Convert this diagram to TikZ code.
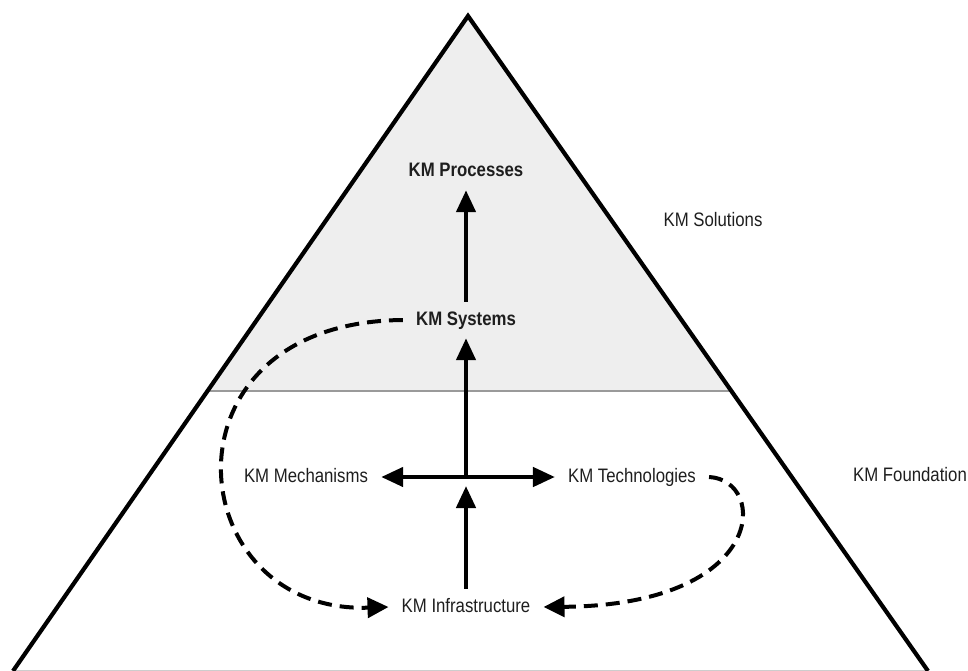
\documentclass[tikz,border=0pt]{standalone}
\usepackage{fontspec}
\newfontfamily\kmfont[FakeStretch=0.86]{Liberation Sans}
\usetikzlibrary{arrows.meta}
\definecolor{topfill}{HTML}{EEEEEE}
\definecolor{divider}{HTML}{9A9A9A}
\definecolor{labeltext}{HTML}{1E1E1E}
\tikzset{
  lbl/.style={font=\kmfont\fontsize{19.5}{21}\selectfont, text=labeltext,
    text height=14pt, text depth=4pt, inner xsep=13pt, inner ysep=9pt},
  boldlbl/.style={lbl, font=\kmfont\fontsize{19.5}{21}\selectfont\bfseries},
  sidelbl/.style={lbl, inner sep=0pt},
  arr/.style={line width=4.5pt, -{Triangle[length=22pt,width=19pt]}},
  dblarr/.style={line width=4.5pt, {Triangle[length=22pt,width=19pt]}-{Triangle[length=22pt,width=19pt]}},
  dasharr/.style={line width=4pt, dash pattern=on 14pt off 8pt,
    -{Triangle[length=21pt,width=20pt]}},
  edge/.style={line width=4.2pt, line join=miter}
}
\begin{document}
\begin{tikzpicture}[x=1pt, y=-1pt]
  \useasboundingbox (0,0) rectangle (968,671);
  % upper (solutions) band of the pyramid
  \fill[topfill] (468,16) -- (207.5,391) -- (731.4,391) -- cycle;
  \draw[divider, line width=2pt] (207.5,391) -- (731.4,391);
  % base and sides
  \draw[divider!50, line width=2pt] (13,670.5) -- (928,670.5);
  \draw[edge] (13,671) -- (468,16) -- (928,671);

  % labels
  \node[boldlbl] (proc) at (466,172) {KM Processes};
  \node[boldlbl] (sys) at (466,320) {KM Systems};
  \node[lbl] (mech) at (306,477) {KM Mechanisms};
  \node[lbl] (tech) at (632,477) {KM Technologies};
  \node[lbl] (infra) at (466,607) {KM Infrastructure};
  \node[sidelbl] (sol) at (713,221) {KM Solutions};
  \node[sidelbl] (found) at (910,476) {KM Foundation};

  \coordinate (hub) at (466,477);

  % solid connectors
  \draw[arr] (sys.north) -- (proc.south);
  \draw[dblarr] (mech.east) -- (tech.west);
  \draw[arr] (hub) -- (sys.south);
  \draw[arr, shorten >=9pt] (infra.north) -- (hub);

  % dashed feedback loops
  \draw[dasharr] (sys.west) .. controls (152,322) and (180,614) .. (infra.west);
  \draw[dasharr] (tech.east) .. controls (768,480) and (768,605) .. (infra.east);
\end{tikzpicture}
\end{document}
